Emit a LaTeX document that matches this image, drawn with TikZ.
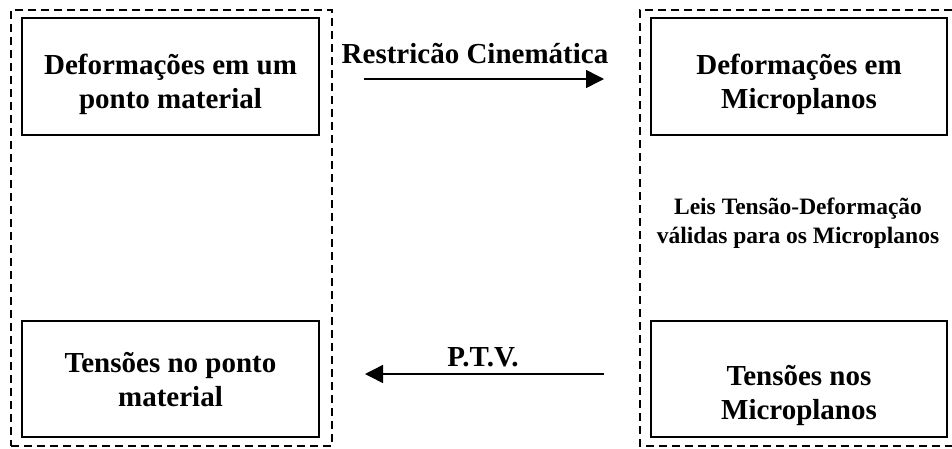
\documentclass[tikz,border=0pt]{standalone}
\usepackage{fontspec}
\setmainfont{Liberation Serif}
\usetikzlibrary{arrows.meta}
\newcommand{\firstline}{\rule{0pt}{22pt}}
\newcommand{\firstsmall}{\rule{0pt}{18pt}}
\begin{document}
\begin{tikzpicture}[x=1pt,y=-1pt,
  frame/.style={draw, dash pattern=on 8pt off 5pt, line width=1.8pt},
  stagebox/.style={draw, line width=1.9pt, inner sep=0pt},
  boxtext/.style={anchor=north, inner sep=0pt, align=center,
    font=\bfseries\fontsize{29}{34}\selectfont},
  smalltext/.style={anchor=north, inner sep=0pt, align=center,
    font=\bfseries\fontsize{23.5}{29}\selectfont},
  label/.style={anchor=base, inner sep=0pt, font=\bfseries\fontsize{29}{34}\selectfont},
  flow/.style={line width=1.5pt, -{Triangle[length=18pt,width=18pt]}}]
\useasboundingbox (0,0) rectangle (952,448);

% dashed groups: material point (left) and microplanes (right)
\node[frame, minimum width=321pt, minimum height=436pt, inner sep=0pt] (pointgroup) at (171.5,228) {};
\draw[frame] (952,10) -- (640,10) -- (640,446) -- (952,446);

% stage boxes
\node[stagebox, minimum width=297pt, minimum height=117pt] (defpoint) at (170.5,76.5) {};
\node[stagebox, minimum width=296pt, minimum height=117pt] (defmicro) at (799,76.5) {};
\node[stagebox, minimum width=297pt, minimum height=116pt] (tenpoint) at (170.5,379) {};
\node[stagebox, minimum width=296pt, minimum height=116pt] (tenmicro) at (799,379) {};

% box texts
\node[boxtext] (tdefpoint) at (170.5,52) {\firstline Deformações em um\\ponto material};
\node[boxtext] (tdefmicro) at (799,52) {\firstline Deformações em\\Microplanos};
\node[boxtext] (ttenpoint) at (170.5,350) {\firstline Tensões no ponto\\material};
\node[boxtext] (ttenmicro) at (799,363) {\firstline Tensões nos\\Microplanos};

% constitutive laws
\node[smalltext] (laws) at (798,196) {\firstsmall Leis Tensão-Deformação\\válidas para os Microplanos};

% kinematic constraint and virtual work
\coordinate (kinfrom) at (364,79);
\coordinate (kinto) at (604,79);
\draw[flow] (kinfrom) -- (kinto);
\node[label] (kinlabel) at (475,63) {Restricão Cinemática};

\coordinate (ptvfrom) at (604,374);
\coordinate (ptvto) at (365,374);
\draw[flow] (ptvfrom) -- (ptvto);
\node[label] (ptvlabel) at (483,366) {P.T.V.};
\end{tikzpicture}
\end{document}
